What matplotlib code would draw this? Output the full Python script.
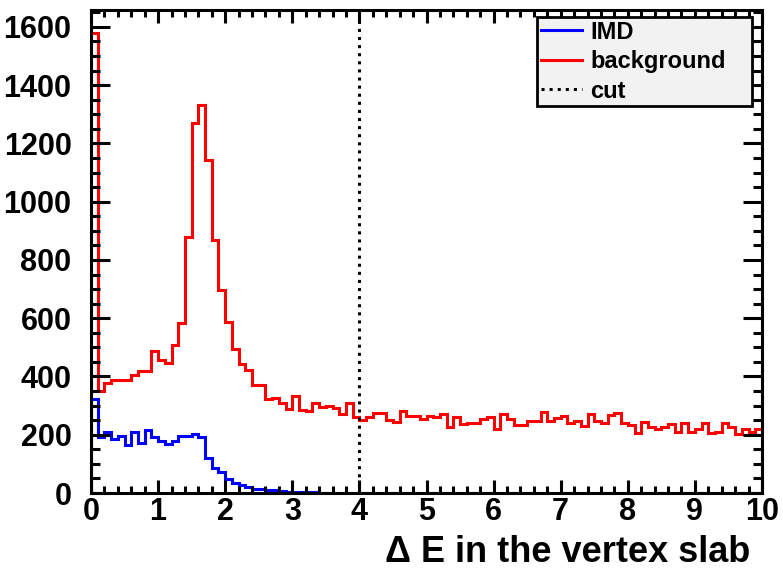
import numpy as np
import matplotlib
matplotlib.use("Agg")
import matplotlib.pyplot as plt
from matplotlib.lines import Line2D

# ---------------------------------------------------------------------------
# Data: 100 bins of 0.1 in Delta E (0..10)
# ---------------------------------------------------------------------------
bin_lo, bin_hi, n_bins = 0.0, 10.0, 100

background = [
    1580, 350, 376, 389, 389, 389, 404, 419, 419, 486,
    458, 446, 508, 585, 880, 1270, 1333, 1142, 870, 697,
    588, 496, 442, 423, 372, 370, 321, 327, 309, 287,
    334, 286, 283, 308, 296, 299, 293, 271, 310, 262,
    250, 260, 273, 275, 250, 244, 282, 265, 265, 255,
    265, 260, 270, 227, 260, 236, 241, 241, 255, 260,
    221, 270, 253, 233, 233, 248, 248, 279, 246, 256,
    266, 241, 248, 231, 270, 248, 241, 268, 273, 242,
    234, 207, 244, 227, 221, 227, 236, 210, 241, 210,
    218, 239, 207, 210, 241, 227, 204, 221, 210, 218,
]

imd = [
    322, 191, 210, 187, 195, 164, 210, 170, 216, 191,
    180, 168, 180, 194, 194, 203, 191, 119, 87, 73,
    48, 34, 27, 20, 15, 13, 10, 9, 6, 5,
    4, 3, 2, 2, 1, 1, 0, 0, 0, 0,
] + [0] * 60

cut_value = 4.0
legend_labels = ["IMD", "background", "cut"]
x_title = "\u0394 E in the vertex slab"

# ---------------------------------------------------------------------------
# Plot
# ---------------------------------------------------------------------------
plt.rcParams["font.family"] = ["Liberation Sans", "DejaVu Sans"]
plt.rcParams["font.weight"] = "bold"

fig = plt.figure(figsize=(7.83, 5.71), dpi=100)
ax = fig.add_axes([0.1162, 0.1366, 0.8570, 0.8459])

edges = np.linspace(bin_lo, bin_hi, n_bins + 1)
lw = 2.2
ax.stairs(background, edges, baseline=0, color="#ff0000", lw=lw)
ax.stairs(imd, edges, baseline=0, color="#0000ff", lw=lw)
ax.axvline(cut_value, color="black", ls=":", lw=lw)

ax.set_xlim(bin_lo, bin_hi)
ax.set_ylim(0, 1658)

ax.set_xticks(np.arange(0, 11, 1))
ax.set_xticks(np.arange(0, 10.01, 0.2), minor=True)
ax.set_yticks(np.arange(0, 1601, 200))
ax.set_yticks(np.arange(0, 1651, 50), minor=True)

for s in ax.spines.values():
    s.set_linewidth(2.2)

ax.tick_params(which="both", direction="in", top=True, right=True,
               width=2.2, labelsize=22)
ax.tick_params(axis="x", which="major", length=9.5, pad=3)
ax.tick_params(axis="x", which="minor", length=5)
ax.tick_params(axis="y", which="major", length=13.5, pad=14)
ax.tick_params(axis="y", which="minor", length=6.5)

ax.set_xlabel(x_title, fontsize=26, fontweight="bold", ha="right")
ax.xaxis.set_label_coords(0.983, -0.086)

handles = [
    Line2D([], [], color="#0000ff", lw=lw),
    Line2D([], [], color="#ff0000", lw=lw),
    Line2D([], [], color="black", lw=lw, ls=":"),
]
leg = ax.legend(handles, legend_labels, loc="upper left",
                bbox_to_anchor=(0.665, 0.9855, 0.32, 0.0), mode="expand",
                borderaxespad=0, fancybox=False, framealpha=1,
                facecolor="#f2f2f2", edgecolor="black", fontsize=17,
                handlelength=1.75, handletextpad=0.35, labelspacing=0.28,
                borderpad=0.15)
leg.get_frame().set_linewidth(2.0)

fig.savefig("out.png", dpi=100)
